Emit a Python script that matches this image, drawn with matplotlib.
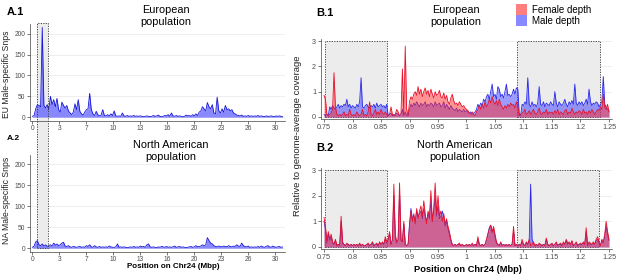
import numpy as np
import matplotlib
matplotlib.use("Agg")
import matplotlib.pyplot as plt
from matplotlib.patches import Rectangle, Patch
from matplotlib.lines import Line2D
from matplotlib.transforms import blended_transform_factory

plt.rcParams['font.family'] = ['Liberation Sans', 'DejaVu Sans']

# ---- panel A: male-specific SNP counts along Chr24, 0.2 Mbp bins ----
a_step = 0.2
eu_snps = [2, 4, 20, 30, 28,   25, 215, 28, 22, 30,   18, 50, 30, 42, 25,
           45, 18, 12, 36, 28,  22, 28, 15, 10, 6,     12, 32, 18, 42, 14,
           8, 5, 12, 18, 20,    57, 18, 8, 4, 14,      6, 3, 5, 18, 4,
           3, 6, 3, 8, 4,       15, 3, 2, 3, 2,        10, 3, 2, 4, 2,
           3, 2, 4, 2, 3,       2, 3, 2, 1, 2,         3, 2, 1, 2, 4,
           2, 3, 5, 2, 1,       2, 4, 3, 6, 2,         10, 3, 2, 4, 2,
           3, 2, 1, 2, 5,       3, 4, 2, 6, 3,         8, 4, 12, 15, 25,
           20, 15, 35, 25, 20,  30, 10, 8, 48, 15,     10, 20, 12, 28, 18,
           20, 15, 18, 10, 8,   5, 4, 3, 5, 2,         3, 2, 4, 2, 3,
           2, 3, 2, 4, 2,       3, 2, 1, 3, 2,         2, 3, 2, 1, 3,
           2, 3, 2, 1]
na_snps = [2, 5, 15, 18, 8,    6, 10, 5, 8, 4,        6, 8, 5, 12, 7,
           10, 6, 8, 12, 14,    5, 4, 6, 3, 2,         4, 3, 2, 3, 4,
           2, 3, 2, 6, 4,       8, 3, 2, 6, 3,         2, 4, 2, 3, 2,
           3, 2, 5, 3, 2,       2, 3, 10, 2, 3,        2, 3, 2, 1, 2,
           3, 2, 4, 2, 3,       2, 5, 3, 4, 2,         8, 10, 3, 2, 3,
           2, 1, 3, 2, 4,       3, 2, 4, 2, 3,         2, 3, 5, 2, 3,
           4, 2, 3, 2, 1,       2, 3, 4, 2, 3,         6, 3, 4, 5, 8,
           5, 8, 25, 18, 12,    10, 6, 4, 3, 5,        4, 3, 5, 4, 3,
           6, 4, 3, 5, 4,       8, 5, 4, 12, 6,        4, 3, 5, 2, 3,
           2, 3, 2, 4, 2,       5, 3, 2, 4, 6,         3, 2, 5, 3, 2,
           3, 4, 2, 3]
a_ticks = [0, 3.3, 6.6, 9.9, 13.2, 16.5, 19.8, 23.1, 26.4, 29.7]
a_ticklabels = ['0', '3', '7', '10', '13', '16', '20', '23', '26', '30']
a_box = (0.57, 1.95)

# ---- panel B: relative depth, 0.0025 Mbp bins from 0.75 to 1.25 ----
b_start, b_step = 0.75, 0.0025
eu_female = [0.85, 0.7, 0.1, 0.05, 0.1, 0.15, 0.3, 1.75, 0.4, 0.1, 0.05, 0.1, 0.05, 0.1, 0.2, 0.05, 0.1, 0.05, 0.3, 0.1,
             0.05, 0.1, 0.05, 0.2, 0.1, 0.05, 0.1, 0.3, 0.05, 0.1, 0.05, 0.2, 0.6, 0.1, 0.05, 0.15, 0.3, 0.1, 0.2, 0.1,
             0.3, 0.15, 0.1, 0.2, 0.1, 0.05, 0.1, 0.4, 0.1, 0.05, 0.1, 0.3, 0.2, 0.05, 0.1, 1.9, 0.1, 2.8, 0.3, 0.05,
             0.6, 0.8, 0.7, 0.9, 1.0, 0.85, 1.2, 0.9, 1.1, 0.8, 1.0, 1.15, 0.9, 1.05, 0.8, 1.1, 0.9, 0.75, 1.0, 0.85,
             0.9, 1.05, 0.8, 0.75, 0.95, 0.7, 0.85, 0.6, 0.5, 0.75, 0.9, 0.65, 0.5, 0.55, 0.45, 0.6, 0.5, 0.4, 0.45, 0.35,
             0.3, 0.25, 0.15, 0.1, 0.2, 0.1, 0.05, 0.2, 0.3, 0.45, 0.3, 0.5, 0.35, 0.6, 0.4, 0.5, 0.7, 0.55, 0.8, 0.6,
             0.5, 0.65, 0.45, 0.7, 0.5, 0.4, 0.3, 0.45, 0.35, 0.5, 0.4, 0.55, 0.45, 0.5, 0.35, 0.6, 0.4, 0.05, 0.1, 0.15,
             0.2, 0.3, 0.1, 0.15, 0.25, 0.1, 0.2, 0.3, 0.15, 0.1, 0.2, 0.35, 0.15, 0.1, 0.2, 0.15, 0.3, 0.1, 0.2, 0.15,
             0.2, 0.1, 0.25, 0.15, 0.3, 0.1, 0.2, 0.15, 0.1, 0.25, 0.3, 0.1, 0.2, 0.15, 0.35, 0.2, 0.1, 0.2, 0.15, 0.25,
             0.2, 0.1, 0.3, 0.15, 0.2, 0.1, 0.25, 0.15, 0.3, 0.2, 0.1, 0.2, 0.3, 0.25, 0.4, 0.3, 0.9, 0.4, 0.3, 0.5,
             0.2]
eu_male = [0.1, 0.05, 0.1, 0.05, 0.4, 0.3, 0.45, 0.35, 0.3, 0.4, 0.5, 0.35, 0.45, 0.4, 0.5, 0.45, 0.7, 0.4, 0.5, 0.35,
           0.45, 0.4, 0.35, 0.5, 0.4, 0.6, 1.55, 0.4, 0.35, 0.45, 0.5, 0.4, 0.35, 0.45, 0.4, 0.5, 0.35, 0.55, 0.4, 0.45,
           0.5, 0.4, 0.45, 0.35, 0.5, 0.05, 0.1, 0.15, 0.05, 0.1, 0.05, 0.15, 0.1, 0.05, 0.1, 0.3, 0.05, 0.2, 0.05, 0.05,
           0.3, 0.5, 0.4, 0.55, 0.45, 0.6, 0.5, 0.4, 0.55, 0.45, 0.5, 0.6, 0.4, 0.5, 0.45, 0.55, 0.5, 0.4, 0.6, 0.45,
           0.5, 0.55, 0.4, 0.45, 0.6, 0.35, 0.5, 0.4, 0.3, 0.45, 0.35, 0.3, 0.25, 0.35, 0.2, 0.3, 0.25, 0.2, 0.3, 0.2,
           0.25, 0.2, 0.15, 0.2, 0.1, 0.15, 0.2, 0.3, 0.5, 0.4, 0.55, 0.45, 0.7, 0.6, 0.8, 0.9, 0.7, 1.0, 1.3, 0.8,
           0.9, 0.7, 1.2, 1.1, 0.8, 0.9, 0.75, 1.0, 1.3, 0.85, 0.9, 0.8, 0.9, 1.1, 0.9, 1.15, 1.1, 0.1, 0.05, 0.5,
           0.45, 0.6, 0.5, 1.55, 0.5, 0.4, 0.6, 0.45, 0.5, 0.4, 0.55, 1.2, 0.5, 0.45, 0.6, 0.4, 0.55, 0.5, 0.45, 0.6,
           0.5, 0.45, 1.0, 0.55, 0.4, 0.6, 0.5, 0.45, 0.55, 0.7, 0.5, 0.4, 0.6, 0.5, 0.65, 0.5, 1.3, 0.55, 0.45, 0.6,
           0.5, 0.6, 0.45, 0.55, 0.7, 0.5, 1.1, 0.6, 0.45, 0.55, 0.5, 0.6, 0.55, 0.4, 0.5, 0.6, 1.6, 0.5, 0.4, 0.3,
           0.25]
na_female = [1.15, 0.8, 0.2, 0.6, 0.3, 0.5, 0.2, 0.1, 0.3, 0.05, 0.1, 0.05, 1.2, 0.2, 0.1, 0.05, 0.15, 0.1, 0.05, 0.1,
             0.05, 0.1, 0.05, 0.1, 0.05, 0.15, 0.05, 0.1, 0.05, 0.05, 0.1, 0.15, 0.05, 0.1, 0.2, 0.05, 0.1, 0.15, 0.05, 0.2,
             0.1, 0.2, 0.1, 0.4, 0.2, 0.3, 0.6, 0.1, 0.3, 2.45, 0.5, 0.2, 0.3, 2.5, 0.3, 0.2, 1.0, 0.1, 0.05, 0.1,
             0.8, 1.4, 1.0, 1.3, 0.9, 1.5, 1.1, 1.4, 1.6, 1.2, 1.8, 1.3, 0.9, 1.4, 1.2, 2.2, 1.0, 1.5, 2.5, 1.3,
             2.0, 1.2, 1.4, 1.0, 1.3, 0.9, 1.1, 0.8, 0.6, 0.3, 0.1, 0.05, 0.1, 0.05, 0.1, 0.15, 0.05, 0.1, 0.05, 0.05,
             0.1, 0.05, 0.1, 0.05, 0.15, 0.05, 0.1, 0.05, 0.4, 0.1, 0.05, 0.1, 0.05, 0.1, 0.3, 0.5, 0.7, 0.85, 0.6, 0.8,
             0.5, 0.2, 0.1, 0.05, 0.2, 0.05, 0.1, 0.05, 0.1, 0.05, 0.1, 0.05, 0.1, 0.8, 0.05, 0.1, 0.05, 0.1, 0.05, 0.3,
             0.1, 0.05, 0.2, 0.1, 0.3, 0.05, 0.1, 0.2, 0.05, 0.1, 0.05, 0.15, 0.1, 0.05, 0.1, 0.05, 0.35, 0.1, 0.05, 0.1,
             0.15, 0.05, 0.1, 0.2, 0.05, 0.1, 0.15, 0.05, 0.2, 0.1, 0.3, 0.15, 0.2, 0.1, 0.25, 0.05, 0.1, 0.2, 0.05, 0.1,
             0.15, 0.1, 0.2, 0.1, 0.75, 0.05, 0.2, 0.15, 0.1, 0.2, 0.1, 0.3, 0.4, 0.2, 0.05, 0.3, 0.2, 0.5, 1.0, 0.6,
             0.3]
na_male = [1.0, 0.7, 0.15, 0.5, 0.25, 0.4, 0.15, 0.1, 0.25, 0.05, 0.1, 0.05, 1.0, 0.15, 0.1, 0.05, 0.1, 0.1, 0.05, 0.1,
           0.05, 0.1, 0.05, 0.1, 0.05, 0.1, 0.05, 0.1, 0.05, 0.05, 0.1, 0.1, 0.05, 0.1, 0.15, 0.05, 0.1, 0.1, 0.05, 0.15,
           0.1, 0.15, 0.1, 0.3, 0.15, 0.25, 0.5, 0.1, 0.25, 2.0, 0.4, 0.15, 0.25, 2.1, 0.25, 0.2, 0.9, 0.1, 0.05, 0.1,
           0.9, 1.5, 1.1, 1.2, 1.0, 1.4, 1.2, 1.3, 1.4, 1.1, 1.5, 1.2, 1.0, 1.3, 1.1, 1.8, 1.0, 1.4, 2.0, 1.2,
           1.6, 1.1, 1.2, 1.4, 1.2, 0.8, 1.0, 0.7, 0.5, 0.25, 0.1, 0.05, 0.1, 0.05, 0.1, 0.1, 0.05, 0.1, 0.05, 0.05,
           0.1, 0.05, 0.1, 0.05, 0.1, 0.05, 0.1, 0.05, 0.3, 0.1, 0.05, 0.1, 0.05, 0.1, 0.25, 0.5, 0.75, 0.85, 0.55, 0.7,
           0.4, 0.15, 0.1, 0.05, 0.15, 0.05, 0.1, 0.05, 0.1, 0.05, 0.1, 0.05, 0.1, 0.6, 0.05, 0.1, 0.05, 0.1, 0.05, 0.2,
           0.1, 0.05, 0.15, 0.1, 0.25, 2.45, 0.3, 0.15, 0.05, 0.1, 0.05, 0.1, 0.1, 0.05, 0.1, 0.05, 0.3, 0.1, 0.05, 0.1,
           0.1, 0.05, 0.1, 0.15, 0.05, 0.1, 0.1, 0.05, 0.15, 0.1, 0.25, 0.1, 0.15, 0.1, 0.2, 0.05, 0.1, 0.15, 0.05, 0.1,
           0.1, 0.1, 0.15, 0.1, 0.6, 0.05, 0.15, 0.1, 0.1, 0.15, 0.1, 0.25, 0.3, 0.15, 0.05, 0.25, 0.15, 0.4, 0.8, 0.5,
           0.25]
b_ticks = [0.75, 0.8, 0.85, 0.9, 0.95, 1.0, 1.05, 1.1, 1.15, 1.2, 1.25]
b_boxes = [[(0.752, 0.86), (1.088, 1.235)], [(0.752, 0.86), (1.088, 1.232)]]

W, H = 617, 279


def fx(x):
    return x / W


def fy(y):
    return 1 - y / H


fig = plt.figure(figsize=(W / 100, H / 100), dpi=100)

GRID = '#ebebeb'
TXT = '#4d4d4d'
BOXC = '#ececec'


def style(ax, size):
    ax.set_facecolor('none')
    for s in ['top', 'right']:
        ax.spines[s].set_visible(False)
    for s in ['left', 'bottom']:
        ax.spines[s].set_color('#444444')
        ax.spines[s].set_linewidth(0.5)
    ax.tick_params(length=2, width=0.5, color='#444444', labelsize=size,
                   labelcolor=TXT, pad=1.5)
    ax.yaxis.grid(True, color=GRID, lw=0.6)
    ax.set_axisbelow(True)


# A axes
ax_a1 = fig.add_axes([fx(30), fy(120.5), fx(285) - fx(30), fy(24.5) - fy(120.5)])
ax_a2 = fig.add_axes([fx(30), fy(251.5), fx(285) - fx(30), fy(155) - fy(251.5)])
xa = np.arange(len(eu_snps)) * a_step
for ax, vals in [(ax_a1, eu_snps), (ax_a2, na_snps)]:
    style(ax, 4.8)
    xv = np.arange(len(vals)) * a_step
    ax.fill_between(xv, 0, vals, color='#4a4aff', alpha=0.65, lw=0, zorder=2)
    ax.plot(xv, vals, color='#1515d8', lw=0.6, zorder=3)
    ax.set_xlim(-0.3, 30.9)
    ax.set_ylim(-8, 222)
    ax.set_yticks([0, 50, 100, 150, 200])
    ax.set_xticks(a_ticks)
    ax.set_xticklabels(a_ticklabels)

# tall grey box spanning both A panels
tr = blended_transform_factory(ax_a1.transData, fig.transFigure)
fig.add_artist(Rectangle((a_box[0], fy(248)), a_box[1] - a_box[0], fy(23) - fy(248),
                         transform=tr, facecolor=BOXC, edgecolor='none', zorder=-1))
fig.add_artist(Rectangle((a_box[0], fy(248)), a_box[1] - a_box[0], fy(23) - fy(248),
                         transform=tr, facecolor='none', edgecolor='#333333',
                         lw=0.6, ls=(0, (1.5, 1.5)), zorder=5))

# B axes
ax_b1 = fig.add_axes([fx(321), fy(119), fx(612) - fx(321), fy(38.5) - fy(119)])
ax_b2 = fig.add_axes([fx(321), fy(249), fx(612) - fx(321), fy(167.5) - fy(249)])
for ax, fem, mal, boxes in [(ax_b1, eu_female, eu_male, b_boxes[0]),
                            (ax_b2, na_female, na_male, b_boxes[1])]:
    style(ax, 5.2)
    xb = b_start + np.arange(len(fem)) * b_step
    for x0, x1 in boxes:
        ax.add_patch(Rectangle((x0, 0), x1 - x0, 3, facecolor=BOXC, edgecolor='#333333',
                               lw=0.6, ls=(0, (1.5, 1.5)), zorder=1))
    ax.fill_between(xb, 0, mal, color='#3a3aff', alpha=0.5, lw=0, zorder=2)
    ax.plot(xb, mal, color='#2a2ae8', lw=0.6, zorder=3)
    ax.fill_between(xb, 0, fem, color='#ff2a2a', alpha=0.5, lw=0, zorder=4)
    ax.plot(xb, fem, color='#e8102a', lw=0.6, zorder=5)
    ax.set_xlim(0.7447, 1.2553)
    ax.set_ylim(-0.08, 3.1)
    ax.set_yticks([0, 1, 2, 3])
    ax.set_xticks(b_ticks)
    ax.set_xticklabels(['%g' % t for t in b_ticks])

# texts
fig.text(fx(7), fy(12), 'A.1', fontsize=8, fontweight='bold', va='center')
fig.text(fx(7), fy(138), 'A.2', fontsize=6, fontweight='bold', va='center')
fig.text(fx(316), fy(13), 'B.1', fontsize=8, fontweight='bold', va='center')
fig.text(fx(316), fy(148), 'B.2', fontsize=8, fontweight='bold', va='center')
fig.text(fx(166), fy(16), 'European\npopulation', fontsize=7.8, ha='center', va='center')
fig.text(fx(171), fy(151), 'North American\npopulation', fontsize=7.8, ha='center', va='center')
fig.text(fx(456), fy(16), 'European\npopulation', fontsize=7.8, ha='center', va='center')
fig.text(fx(455), fy(151), 'North American\npopulation', fontsize=7.8, ha='center', va='center')
fig.text(fx(7), fy(74), 'EU Male-specific Snps', fontsize=6.2, rotation=90,
         ha='center', va='center', color='#222222')
fig.text(fx(7), fy(200), 'NA Male-specific Snps', fontsize=6.2, rotation=90,
         ha='center', va='center', color='#222222')
fig.text(fx(298), fy(136), 'Relative to genome-average coverage', fontsize=6.8,
         rotation=90, ha='center', va='center', color='#222222')
fig.text(fx(173), fy(267), 'Position on Chr24 (Mbp)', fontsize=5.8, fontweight='bold',
         ha='center', va='center')
fig.text(fx(468), fy(269), 'Position on Chr24 (Mbp)', fontsize=6.7, fontweight='bold',
         ha='center', va='center')

handles = [Patch(facecolor='#ff2a2a', alpha=0.6, edgecolor='none', label='Female depth'),
           Patch(facecolor='#3a3aff', alpha=0.6, edgecolor='none', label='Male depth')]
fig.legend(handles=handles, loc='upper left', bbox_to_anchor=(fx(514), fy(2)),
           frameon=False, fontsize=7, handlelength=1.1, handleheight=1.4,
           labelspacing=0.0, handletextpad=0.6, borderaxespad=0, borderpad=0.2)

fig.savefig('out.png', dpi=100)
